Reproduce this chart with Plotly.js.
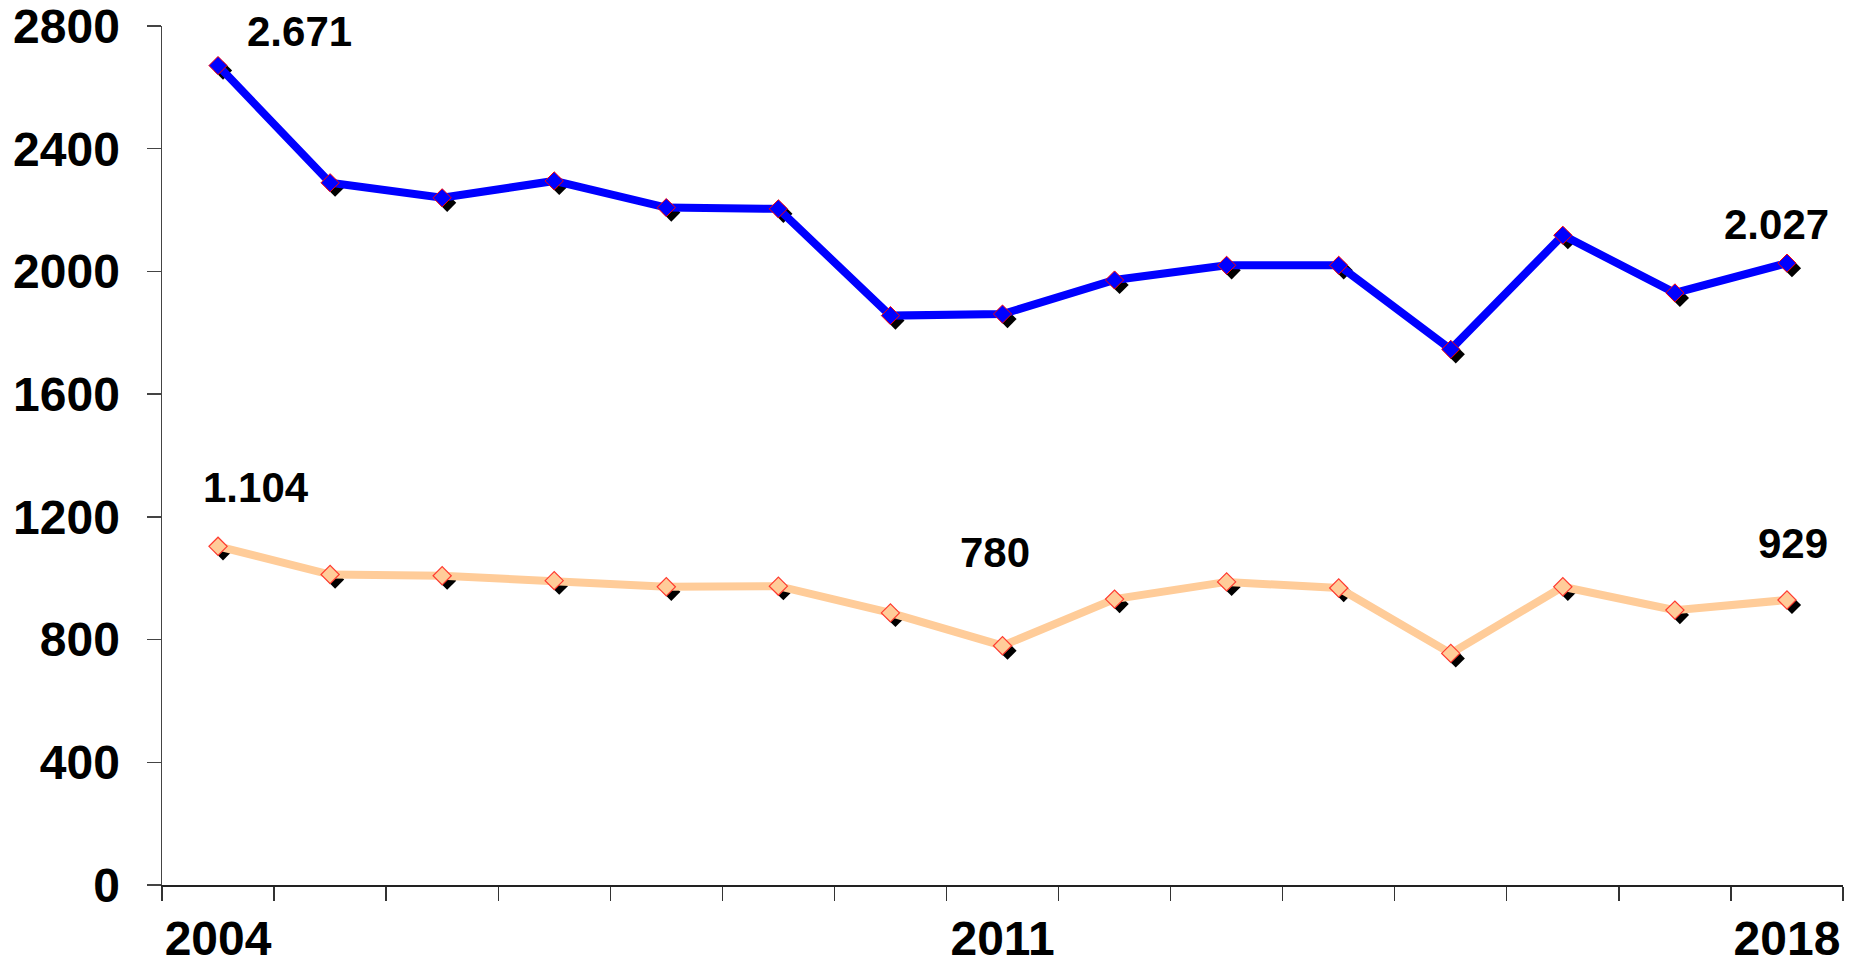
<!DOCTYPE html>
<html>
<head>
<meta charset="utf-8">
<script src="https://cdn.plot.ly/plotly-3.0.1.min.js"></script>
<style>
  html, body { margin: 0; padding: 0; background: #ffffff; }
  #chart { width: 1858px; height: 965px; }
</style>
</head>
<body>
<div id="chart"></div>
<script>
// ---- data ----
var years = ['2004','2005','2006','2007','2008','2009','2010','2011','2012','2013','2014','2015','2016','2017','2018'];
var seriesTop = [2671, 2289, 2240, 2295, 2208, 2204, 1856, 1861, 1972, 2020, 2020, 1746, 2118, 1930, 2027];
var seriesBottom = [1104, 1012, 1008, 992, 972, 974, 887, 780, 932, 988, 968, 755, 972, 896, 929];
var shownYearLabels = ['2004', '2011', '2018'];
var yTickValues = [0, 400, 800, 1200, 1600, 2000, 2400, 2800];

// ---- helpers ----
function fmt(v) {
  if (v >= 1000) {
    var r = String(v % 1000);
    while (r.length < 3) r = '0' + r;
    return Math.floor(v / 1000) + '.' + r;
  }
  return String(v);
}

var FONT = 'Liberation Sans, Arial, sans-serif';
var W = 1858, H = 965;
var mL = 162, mR = 10, mT = 26, mB = 75;
var shadowPx = 5;
var dx = shadowPx / (W - mL - mR);
var dy = shadowPx / (H - mT - mB);

var tickText = years.map(function (y) { return shownYearLabels.indexOf(y) >= 0 ? y : ''; });

// shadow markers (drawn first, offset down-right)
var shadowTop = {
  x: years, y: seriesTop, xaxis: 'x', yaxis: 'y', type: 'scatter', mode: 'markers',
  marker: { symbol: 'diamond', size: 14, color: '#000000', line: { width: 0 } },
  hoverinfo: 'skip', showlegend: false
};
var shadowBottom = {
  x: years, y: seriesBottom, xaxis: 'x', yaxis: 'y', type: 'scatter', mode: 'markers',
  marker: { symbol: 'diamond', size: 14, color: '#000000', line: { width: 0 } },
  hoverinfo: 'skip', showlegend: false
};

var traceTop = {
  x: years, y: seriesTop, xaxis: 'x2', yaxis: 'y2', type: 'scatter', mode: 'lines+markers',
  line: { color: '#0000FF', width: 8 },
  marker: { symbol: 'diamond', size: 14, color: '#0000FF', line: { color: '#FF0000', width: 1 } },
  showlegend: false
};
var traceBottom = {
  x: years, y: seriesBottom, xaxis: 'x2', yaxis: 'y2', type: 'scatter', mode: 'lines+markers',
  line: { color: '#FFCC99', width: 8 },
  marker: { symbol: 'diamond', size: 14, color: '#FFCC99', line: { color: '#FF3B30', width: 1.2 } },
  showlegend: false
};

function ann(series, idx, xs, ys) {
  return {
    x: idx, y: series[idx], xref: 'x2', yref: 'y2',
    text: '<b>' + fmt(series[idx]) + '</b>', showarrow: false, xanchor: 'center', yanchor: 'middle',
    xshift: xs, yshift: ys,
    font: { family: FONT, size: 42, color: '#000000' }
  };
}

var annotations = [
  ann(seriesTop, 0, 81, 34),
  ann(seriesTop, 14, -10, 39),
  ann(seriesBottom, 0, 38, 59),
  ann(seriesBottom, 7, -8, 93),
  ann(seriesBottom, 14, 6, 57)
];

var layout = {
  width: W, height: H,
  margin: { l: mL, r: mR, t: mT, b: mB, pad: 0 },
  paper_bgcolor: '#ffffff', plot_bgcolor: 'rgba(0,0,0,0)',
  showlegend: false,
  xaxis: {
    type: 'category', domain: [dx, 1], anchor: 'y', range: [-0.5, 14.5],
    visible: false, fixedrange: true
  },
  yaxis: {
    domain: [0, 1 - dy], anchor: 'x', range: [0, 2800],
    visible: false, fixedrange: true
  },
  xaxis2: {
    type: 'category', domain: [0, 1 - dx], anchor: 'y2', range: [-0.5, 14.5],
    tickmode: 'array', tickvals: years, ticktext: tickText, tickangle: 0,
    tickson: 'boundaries', ticks: 'outside', ticklen: 14, tickwidth: 1.3, tickcolor: '#333333',
    showline: true, linecolor: '#222222', linewidth: 2,
    showgrid: false, zeroline: false,
    ticklabelstandoff: 10, ticklabeloverflow: 'allow',
    tickfont: { family: FONT, size: 48, color: '#000000', weight: 'bold' },
    fixedrange: true
  },
  yaxis2: {
    domain: [dy, 1], anchor: 'x2', range: [0, 2800],
    tickmode: 'array', tickvals: yTickValues, ticktext: yTickValues.map(String),
    ticks: 'outside', ticklen: 14, tickwidth: 1.3, tickcolor: '#444444',
    showline: true, linecolor: '#444444', linewidth: 1.5,
    showgrid: false, zeroline: false,
    ticklabelstandoff: 17, ticklabeloverflow: 'allow',
    tickfont: { family: FONT, size: 48, color: '#000000', weight: 'bold' },
    fixedrange: true
  },
  annotations: annotations
};

Plotly.newPlot('chart', [shadowTop, shadowBottom, traceTop, traceBottom], layout, { staticPlot: true, displayModeBar: false });
</script>
</body>
</html>
